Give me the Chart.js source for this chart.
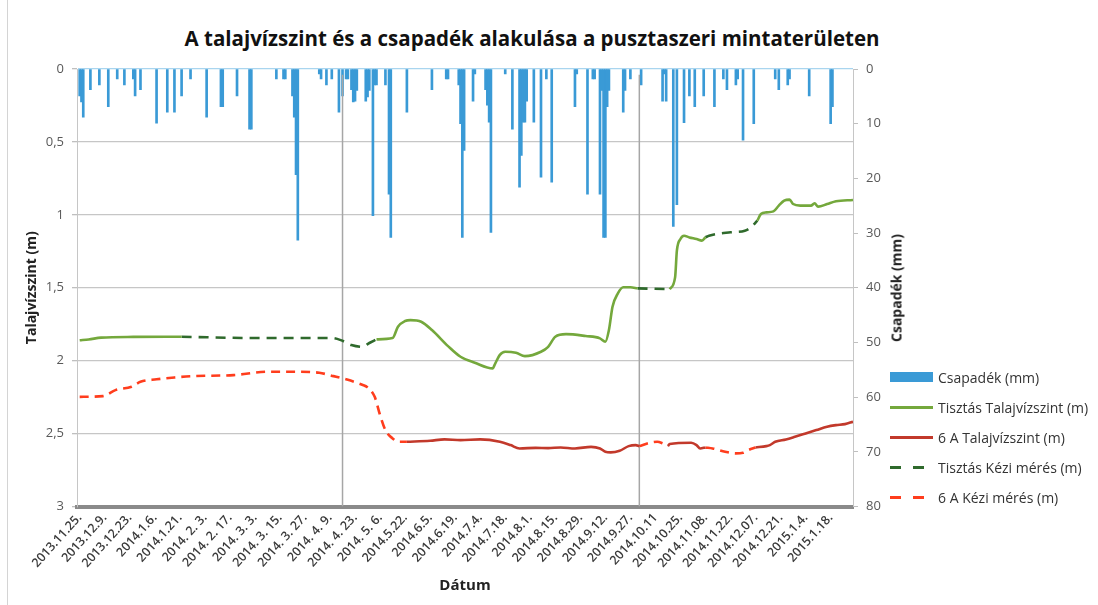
<!DOCTYPE html>
<html lang="hu">
<head>
<meta charset="UTF-8">
<title>Talajvízszint és csapadék – Pusztaszer</title>
<script src="https://cdn.jsdelivr.net/npm/chart.js"></script>
<style>
  *{box-sizing:border-box;margin:0;padding:0}
  body{width:1098px;height:605px;background:#fff;font-family:'Open Sans',Lato,sans-serif;overflow:hidden;position:relative}
  .frame{position:absolute;left:7px;top:0;width:1px;height:605px;background:#d4d4d4}
  .wrap{position:absolute;left:0;top:0;width:1098px;height:605px}
  h1{position:absolute;left:132px;width:800px;top:24px;text-align:center;font-size:20.5px;font-weight:700;color:#111;line-height:28px;white-space:nowrap}
  .y2title{position:absolute;left:896px;top:288px;transform:translate(-50%,-50%) rotate(-90deg);font-size:14px;font-weight:700;white-space:nowrap;color:#222}
  .legend{position:absolute;left:890px;top:362px}
  .legend div{height:30px;display:flex;align-items:center;font-size:14px;color:#333;white-space:nowrap}
  .legend i{display:inline-block;width:43px;margin-right:5px}
</style>
</head>
<body>
  <div class="frame"></div>
  <h1>A talajvízszint és a csapadék alakulása a pusztaszeri mintaterületen</h1>
  <div class="wrap"><canvas id="chart"></canvas></div>
  <div class="y2title">Csapadék (mm)</div>
  <div class="legend" id="legend"></div>

<script>
  // ── x axis: one record per day, a label every 14 records ──
  const xTickLabels = ['2013.11.25.','2013.12.9.','2013.12.23.','2014.1.6.','2014.1.21.','2014. 2. 3.','2014. 2. 17.',
    '2014. 3. 3.','2014. 3. 15.','2014. 3. 27.','2014. 4. 9.','2014. 4. 23.','2014. 5. 6.','2014.5.22.','2014.6.5.',
    '2014.6.19.','2014.7.4.','2014.7.18.','2014.8.1.','2014.8.15.','2014.8.29.','2014.9.12.','2014.9.27.','2014.10.11',
    '2014.10.25.','2014.11.08.','2014.11.22.','2014.12.07.','2014.12.21.','2015.1.4.','2015.1.18.'];
  const daysPerLabel = 14;

  // ── Csapadék (mm), right axis ──
  const rainDay = [0,1,2,6,11,16,21,25,30,31,34,43,49,53,57,62,71,79,80,88,95,96,110,114,115,119,120,121,122,
    134,135,138,141,145,147,149,150,152,153,154,155,160,161,162,164,165,166,171,173,174,183,197,205,206,
    212,213,214,215,220,221,227,228,229,230,238,242,246,247,248,249,250,254,258,261,264,277,278,284,287,288,
    291,292,293,294,295,296,304,305,308,314,326,327,328,332,334,338,341,344,349,355,360,362,367,368,371,377,
    389,391,396,397,408,420,421];
  const rainMm = [4.9,6.0,8.8,3.8,2.9,6.9,1.8,2.9,1.8,4.9,3.8,9.9,7.9,7.9,4.9,1.8,8.8,6.9,6.9,4.9,11.0,11.0,1.8,1.8,1.8,4.9,8.8,19.3,31.3,
    0.9,1.8,2.9,1.8,7.9,4.9,1.8,1.8,3.8,6.0,5.9,3.9,5.9,5.1,3.9,26.8,2.9,2.9,2.9,22.9,30.8,7.9,3.8,1.8,1.8,
    2.9,10.0,30.8,14.9,5.9,0.9,3.8,6.6,9.7,29.9,0.9,11.0,21.6,15.8,9.7,9.7,5.9,9.7,19.8,1.8,20.7,6.9,0.9,22.9,1.8,1.8,
    22.9,3.9,30.8,30.8,6.9,3.9,7.9,3.9,1.8,2.9,5.9,0.9,5.9,28.8,24.8,9.8,4.9,6.9,4.9,6.9,1.8,3.8,2.9,1.8,13.0,10.0,
    1.8,3.8,2.9,1.8,4.9,10.0,6.9];

  // ── Tisztás Talajvízszint (m), logger ──
  const tisztasDay = [0,5,12,30,57, 100, 166,175,178,182,185,191,197,206,213,221,231,232,235,238,244,249,258,262,266,272,283,291,294,296,298,301,304,308,312,
    320, 330,333,334,336,338,341,345,348,350, 365, 379,381,384,388,391,394,397,399,403,409,411,413,418,423,432.5];
  const tisztasLevel = [1.86,1.855,1.842,1.837,1.836, null, 1.854,1.845,1.767,1.728,1.722,1.733,1.79,1.9,1.973,2.014,2.053,2.03,1.96,1.939,1.946,1.969,1.939,1.905,1.836,1.818,1.831,1.847,1.87,1.79,1.63,1.539,1.497,1.497,1.504,
    null, 1.51,1.429,1.246,1.166,1.143,1.155,1.166,1.177,1.154, null, 1.04,0.994,0.983,0.976,0.937,0.903,0.896,0.926,0.937,0.937,0.921,0.944,0.926,0.907,0.898];

  // ── 6 A Talajvízszint (m), logger ──
  const sixADay = [183,196,204,213,224,235,241,246,255,262,269,277,286,291,294,297,302,307,311,313, 320, 329,330,342,345,347,350, 365,
    378,384,386,389,395,400,406,412,418,423,428,432.5];
  const sixALevel = [2.556,2.549,2.54,2.545,2.54,2.556,2.579,2.602,2.598,2.6,2.595,2.602,2.591,2.602,2.625,2.629,2.618,2.586,2.579,2.586, null,
    2.586,2.572,2.563,2.579,2.602,2.595, null, 2.595,2.586,2.579,2.556,2.54,2.522,2.499,2.476,2.453,2.442,2.435,2.419];

  // ── Tisztás Kézi mérés (m), manual readings ──
  const tisztasManualDay = [57,100,141,146,152,158,162,166, 240, 312,330, 340, 350,352,364,372,376,379];
  const tisztasManualLevel = [1.836,1.845,1.845,1.859,1.893,1.905,1.879,1.854, null, 1.504,1.51, null, 1.154,1.143,1.12,1.109,1.079,1.04];

  // ── 6 A Kézi mérés (m), manual readings ──
  const sixAManualDay = [0,13,20,29,34,43,53,63,86,105,123,134,142,149,158,161,165,168,171,175,179,183, 250,
    313,319,323,326,329, 340, 350,354,361,367,371,374,378];
  const sixAManualLevel = [2.248,2.243,2.202,2.179,2.145,2.128,2.115,2.106,2.099,2.076,2.076,2.083,2.106,2.128,2.165,2.183,2.248,2.373,2.476,2.533,2.556,2.556, null,
    2.586,2.563,2.556,2.567,2.586, null, 2.595,2.602,2.625,2.636,2.632,2.613,2.595];

  // vertical marker lines
  const markerDay = [147, 313];
  const markerFrom = 0.04, markerTo = 3;

  const seriesNames = ['Csapadék (mm)','Tisztás Talajvízszint (m)','6 A Talajvízszint (m)','Tisztás Kézi mérés (m)','6 A Kézi mérés (m)'];
  const colors = ['#3a9ad6','#74a83c','#c2392b','#2f6a2c','#ff3d1d'];

  const pts = (xs, ys) => xs.map((x, i) => ({x, y: ys[i]}));
  const markerPts = [];
  markerDay.forEach((d, i) => {
    if (i) markerPts.push({x: (markerDay[i - 1] + d) / 2, y: null});
    markerPts.push({x: d, y: markerFrom}, {x: d, y: markerTo});
  });

  const lineCommon = {type:'line', yAxisID:'y', pointRadius:0, borderWidth:2.6, spanGaps:false, cubicInterpolationMode:'monotone', order:1};

  const datasets = [
    {type:'bar', label:seriesNames[0], data:pts(rainDay, rainMm), yAxisID:'y2', backgroundColor:colors[0], barThickness:2, order:10},
    {...lineCommon, label:seriesNames[1], data:pts(tisztasDay, tisztasLevel), borderColor:colors[1]},
    {...lineCommon, label:seriesNames[2], data:pts(sixADay, sixALevel), borderColor:colors[2]},
    {...lineCommon, label:seriesNames[3], data:pts(tisztasManualDay, tisztasManualLevel), borderColor:colors[3], borderDash:[10,7]},
    {...lineCommon, label:seriesNames[4], data:pts(sixAManualDay, sixAManualLevel), borderColor:colors[4], borderDash:[9,6]},
    {type:'line', label:'marker', data:markerPts, yAxisID:'y', borderColor:'#a6a6a6', borderWidth:1.5, pointRadius:0, spanGaps:false, order:5}
  ];

  const FONT = 'Open Sans';
  const tickFont = {family: FONT, size: 13};

  new Chart(document.getElementById('chart'), {
    type: 'line',
    data: {datasets},
    options: {
      responsive: true,
      maintainAspectRatio: false,
      animation: false,
      events: [],
      layout: {padding: {left: 20, right: 205, top: 69, bottom: 7}},
      plugins: {legend: {display: false}, title: {display: false}, tooltip: {enabled: false}},
      scales: {
        x: {
          type: 'linear', position: 'bottom', min: -1.5, max: 432.5, offset: false,
          grid: {display: false, drawTicks: false},
          border: {display: true, width: 4, color: '#8a8a8a'},
          afterBuildTicks: s => { s.ticks = xTickLabels.map((_, i) => ({value: i * daysPerLabel})); },
          afterFit: s => { s.height = 91.5; },
          ticks: {autoSkip: false, minRotation: 48, maxRotation: 48, padding: 4, color: '#3a3a3a',
                  font: {family: FONT, size: 12.5, weight: '600'}, callback: (v, i) => xTickLabels[i]},
          title: {display: true, text: 'Dátum', color: '#222', padding: {top: 0, bottom: 3}, font: {family: FONT, size: 15, weight: 'bold'}}
        },
        y: {
          position: 'left', reverse: true, min: 0, max: 3,
          afterFit: s => { s.width = 57; },
          ticks: {stepSize: 0.5, padding: 8, color: '#595959', font: tickFont,
                  callback: v => String(v).replace('.', ',')},
          grid: {color: c => c.tick && c.tick.value === 0 ? '#a9d5ef' : '#c6c6c6', lineWidth: 1.3, tickLength: 5, tickColor: '#bfbfbf'},
          border: {display: true, color: '#c6c6c6'},
          title: {display: true, text: 'Talajvízszint (m)', color: '#222', font: {family: FONT, size: 14, weight: 'bold'}}
        },
        y2: {
          position: 'right', reverse: true, min: 0, max: 80,
          afterFit: s => { s.width = 40; },
          ticks: {stepSize: 10, padding: 8, color: '#595959', font: tickFont},
          grid: {drawOnChartArea: false, tickLength: 5, tickColor: '#bfbfbf'},
          border: {display: true, color: '#c6c6c6'}
        }
      }
    }
  });

  // legend built from the series list
  const legend = document.getElementById('legend');
  datasets.slice(0, 5).forEach(ds => {
    const row = document.createElement('div');
    const sw = document.createElement('i');
    if (ds.type === 'bar') { sw.style.height = '10px'; sw.style.background = ds.backgroundColor; }
    else if (ds.borderDash) { sw.style.height = '3px'; sw.style.background = `repeating-linear-gradient(to right, ${ds.borderColor} 0 11px, transparent 11px 23px)`; }
    else { sw.style.height = '3px'; sw.style.background = ds.borderColor; }
    row.appendChild(sw);
    row.appendChild(document.createTextNode(ds.label));
    legend.appendChild(row);
  });
</script>
</body>
</html>
